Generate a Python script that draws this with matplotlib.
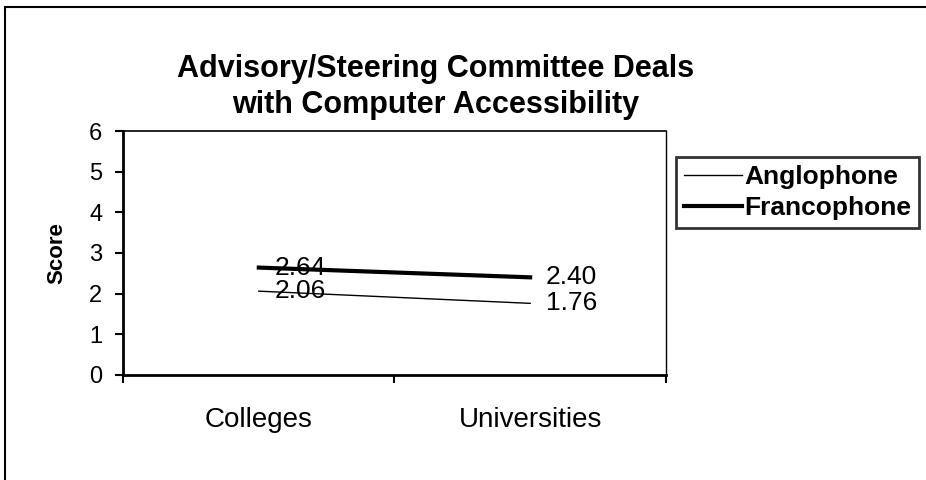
import numpy as np
import matplotlib
matplotlib.use("Agg")
import matplotlib.pyplot as plt
from matplotlib.patches import Rectangle

# ---- Data ----
categories = ["Colleges", "Universities"]
anglophone = [2.06, 1.76]
francophone = [2.64, 2.40]
series_names = ["Anglophone", "Francophone"]
y_ticks = [0, 1, 2, 3, 4, 5, 6]

plt.rcParams["font.family"] = ["Liberation Sans", "DejaVu Sans"]

fig = plt.figure(figsize=(9.26, 4.8), dpi=100)
ax = fig.add_axes([0.133, 0.219, 0.586, 0.508])

x = np.arange(len(categories))
l1, = ax.plot(x, anglophone, color="black", lw=1.0)
l2, = ax.plot(x, francophone, color="black", lw=3.0)

# value labels
for ys in [anglophone, francophone]:
    for xi, yi in zip(x, ys):
        ax.annotate(f"{yi:.2f}", (xi, yi), xytext=(11.5, 0), textcoords="offset points",
                    ha="left", va="center", fontsize=19)

# ---- Axes ----
ax.set_xlim(-0.5, len(categories) - 0.5)
ax.set_ylim(0, 6)
ax.set_xticks(np.arange(len(categories) + 1) - 0.5)
ax.set_xticklabels([])
ax.set_xticks(x, minor=True)
ax.set_xticklabels(categories, minor=True, fontsize=20)
ax.tick_params(axis="x", which="minor", length=0, pad=23)
ax.tick_params(axis="x", which="major", length=6, width=1.5, direction="out")
ax.set_yticks(y_ticks)
ax.tick_params(axis="y", labelsize=17, length=6, width=1.5, direction="out", pad=9)
ax.set_ylabel("Score", fontsize=16, fontweight="bold", labelpad=16)

ax.spines["left"].set_linewidth(2)
ax.spines["bottom"].set_linewidth(2)
ax.spines["top"].set_linewidth(1.2)
ax.spines["right"].set_linewidth(1)
ax.spines["right"].set_linestyle((0, (2, 1)))

fig.text(0.470, 0.818, "Advisory/Steering Committee Deals\nwith Computer Accessibility",
         ha="center", va="center", fontsize=22, fontweight="bold", linespacing=1.25)

leg = fig.legend([l1, l2], series_names, loc="upper left", bbox_to_anchor=(0.730, 0.673),
                 borderaxespad=0, frameon=True, fancybox=False, edgecolor="black",
                 handlelength=2.2, handletextpad=0.08, borderpad=0.3, labelspacing=0.28,
                 prop={"weight": "bold", "size": 19})
leg.get_frame().set_linewidth(2)

# outer chart border
fig.patches.append(Rectangle((5 / 926, -0.05), 1.0, 1 - 7 / 480 + 0.05, transform=fig.transFigure,
                             fill=False, edgecolor="black", lw=1.5))

fig.savefig("out.png", dpi=100)
